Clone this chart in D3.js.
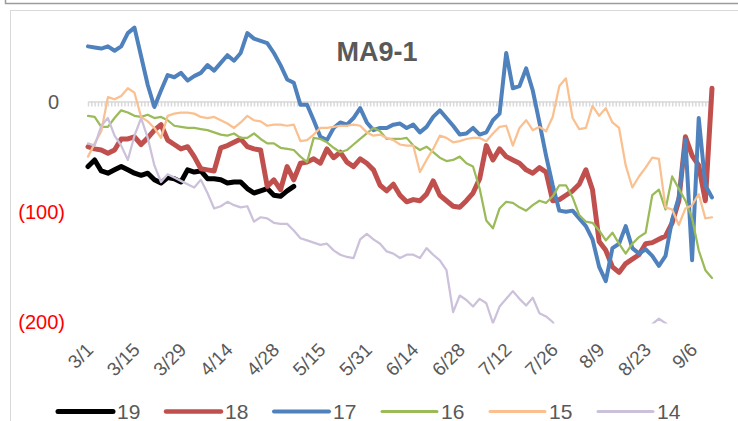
<!DOCTYPE html>
<html>
<head>
<meta charset="utf-8">
<script src="https://cdn.jsdelivr.net/npm/d3@7"></script>
<style>
	body { margin: 0; background: #fff; }
	svg text { font-family: "Liberation Sans", Arial, sans-serif; }
</style>
</head>
<body>
<script>
// chart data
const title = 'MA9-1';
const nCategories = 189;      // daily categories on the x axis
const sampleStep = 2;         // series values sit on every 2nd category
const tickEvery = 14;
const tickLabels = ['3/1','3/15','3/29','4/14','4/28','5/15','5/31','6/14','6/28','7/12','7/26','8/9','8/23','9/6'];
const yTicks = [0, -100, -200];
const seriesNames = ['19','18','17','16','15','14'];

const s19 = [-59,-53,-63,-65,-62,-59,-62,-65,-67,-65,-71,-74,-69,-70,-73,-62,-64,-63,-70,-70,
	-71,-74,-73,-73,-79,-83,-81,-79,-85,-86,-81,-77];
const s18 = [-41,-43,-44,-47,-44,-34,-34,-32,-39,-33,
	-26,-21,-35,-39,-43,-41,-50,-61,-62,-63,
	-42,-40,-37,-34,-41,-43,-44,-77,-71,-80,
	-59,-71,-56,-55,-52,-56,-43,-51,-46,-55,
	-59,-52,-56,-62,-76,-81,-75,-85,-91,-89,
	-90,-84,-72,-85,-90,-95,-96,-90,-83,-70,
	-40,-53,-43,-50,-53,-56,-62,-65,-60,-64,
	-90,-89,-85,-81,-75,-62,-80,-127,-135,-150,
	-155,-147,-143,-139,-129,-128,-125,-122,-110,-90,
	-32,-49,-58,-90,12];
const s17 = [50,49,48,50,46,50,62,67,41,15,
	-5,10,24,22,26,19,23,26,33,28,
	35,42,37,44,62,57,55,53,44,33,
	20,17,-3,-3,-17,-32,-35,-24,-19,-21,
	-15,-6,-19,-26,-24,-24,-21,-20,-24,-21,
	-28,-23,-14,-8,-15,-22,-30,-29,-24,-30,
	-28,-17,-11,44,12,14,30,10,-19,-49,
	-76,-99,-100,-99,-106,-113,-125,-150,-163,-133,
	-129,-113,-133,-138,-134,-140,-149,-140,-107,-87,
	-35,-144,-15,-76,-87];
const s16 = [-13,-14,-23,-23,-15,-8,-10,-13,-14,-12,
	-15,-14,-17,-22,-23,-24,-24,-25,-26,-28,
	-30,-31,-29,-33,-33,-29,-34,-38,-38,-42,
	-43,-44,-50,-55,-33,-34,-37,-42,-46,-44,
	-39,-34,-29,-24,-27,-34,-34,-34,-33,-40,
	-44,-41,-46,-51,-54,-53,-50,-56,-59,-79,
	-108,-115,-97,-91,-92,-96,-99,-94,-90,-92,
	-86,-76,-76,-87,-103,-109,-110,-117,-126,-119,
	-129,-138,-129,-123,-119,-85,-80,-98,-68,-79,
	-90,-106,-135,-153,-160];
const s15 = [-50,-38,-27,4,2,5,12,8,-14,-18,
	-24,-33,-13,-11,-10,-10,-11,-14,-15,-14,
	-17,-20,-24,-19,-13,-17,-18,-22,-21,-21,
	-22,-21,-36,-35,-30,-24,-24,-23,-22,-22,
	-21,-22,-28,-31,-30,-33,-35,-39,-40,-40,
	-64,-53,-43,-31,-33,-37,-36,-34,-33,-33,
	-36,-29,-23,-22,-40,-24,-17,-26,-23,-27,
	-14,14,21,-15,-25,-24,-4,-13,-6,-19,
	-24,-58,-78,-68,-60,-51,-52,-96,-98,-112,
	-97,-94,-84,-106,-105];
const s14 = [-38,-40,-22,-15,-31,-40,-53,-31,-15,-33,
	-58,-73,-66,-69,-72,-75,-78,-71,-83,-97,
	-95,-91,-94,-96,-95,-109,-105,-106,-110,-111,
	-111,-117,-124,-126,-128,-130,-129,-135,-139,-141,
	-142,-125,-120,-125,-129,-136,-138,-142,-139,-139,
	-142,-133,-139,-144,-153,-191,-176,-180,-186,-179,
	-183,-201,-186,-179,-172,-179,-185,-178,-192,-195,
	-200,-212,-215,-220,-218,-222,-225,-220,-218,-215,
	-218,-214,-210,-208,-205,-202,-197,-201,-206,-210,
	-208,-212,-210,-214,-215];

const seriesValues = [s19, s18, s17, s16, s15, s14];
const seriesColors = ['#000000','#C0504D','#4F81BD','#9BBB59','#FAC090','#CCC1DA'];
const lineWidths = [5, 5, 4, 2.25, 2.25, 2.25];
const legendWidths = [5, 4.5, 4, 3, 3, 3];

const W = 738, H = 421;
const svg = d3.select('body').append('svg')
	.attr('width', W)
	.attr('height', H);

// frame lines
svg.append('path')
	.attr('d', 'M5.5,0V3.5H' + W)
	.attr('fill', 'none')
	.attr('stroke', '#9c9c9c')
	.attr('stroke-width', 1.5);
svg.append('rect')
	.attr('x', 10.5).attr('y', 10.5)
	.attr('width', W + 10).attr('height', H + 10)
	.attr('fill', 'none')
	.attr('stroke', '#d9d9d9');

const x = d3.scaleLinear().domain([0, nCategories - 1]).range([88, 712]);
const y = d3.scaleLinear().domain([-200, 80]).range([322, 13.3]);

// category axis on the zero line
svg.append('g')
	.attr('transform', 'translate(0,' + y(0) + ')')
	.call(d3.axisBottom(x)
		.tickValues(d3.range(nCategories))
		.tickSize(5)
		.tickSizeOuter(0)
		.tickFormat(''))
	.call(g => g.selectAll('path,line')
		.attr('stroke', '#d9d9d9')
		.attr('stroke-width', 1.5));

// y labels
svg.append('g').selectAll('text')
	.data(yTicks)
	.join('text')
	.attr('x', d => d < 0 ? 65 : 59)
	.attr('y', d => y(d) + 7)
	.attr('text-anchor', 'end')
	.attr('font-size', 20)
	.attr('fill', d => d < 0 ? '#FF0000' : '#595959')
	.text(d => d < 0 ? '(' + d3.format(',')(-d) + ')' : d3.format(',')(d));

// x labels, rotated, at the bottom of the plot
svg.append('g').selectAll('text')
	.data(tickLabels)
	.join('text')
	.attr('transform', (d, i) => 'translate(' + (x(i * tickEvery) + 6.5) + ',351) rotate(-45)')
	.attr('text-anchor', 'end')
	.attr('font-size', 19)
	.attr('fill', '#595959')
	.text(d => d);

// title
svg.append('text')
	.attr('x', 377)
	.attr('y', 61)
	.attr('text-anchor', 'middle')
	.attr('font-size', 27)
	.attr('font-weight', 'bold')
	.attr('fill', '#595959')
	.text(title);

// lines
svg.append('clipPath').attr('id', 'plot')
	.append('rect')
	.attr('x', 60).attr('y', y(80))
	.attr('width', 680).attr('height', y(-200) - y(80) + 1.5);

const line = d3.line()
	.x((d, i) => x(i * sampleStep))
	.y(d => y(d));

svg.append('g')
	.attr('clip-path', 'url(#plot)')
	.selectAll('path')
	.data(seriesValues)
	.join('path')
	.attr('d', line)
	.attr('fill', 'none')
	.attr('stroke', (d, i) => seriesColors[i])
	.attr('stroke-width', (d, i) => lineWidths[i])
	.attr('stroke-linejoin', 'round')
	.attr('stroke-linecap', 'round');

// legend
const lg = svg.append('g').selectAll('g')
	.data(seriesNames)
	.join('g')
	.attr('transform', (d, i) => 'translate(' + (58 + i * 108) + ',411.5)');
lg.append('line')
	.attr('x1', 0).attr('x2', 55)
	.attr('stroke', (d, i) => seriesColors[i])
	.attr('stroke-width', (d, i) => legendWidths[i])
	.attr('stroke-linecap', 'round');
lg.append('text')
	.attr('x', 59)
	.attr('y', 7)
	.attr('font-size', 21)
	.attr('fill', '#595959')
	.text(d => d);
</script>
</body>
</html>
